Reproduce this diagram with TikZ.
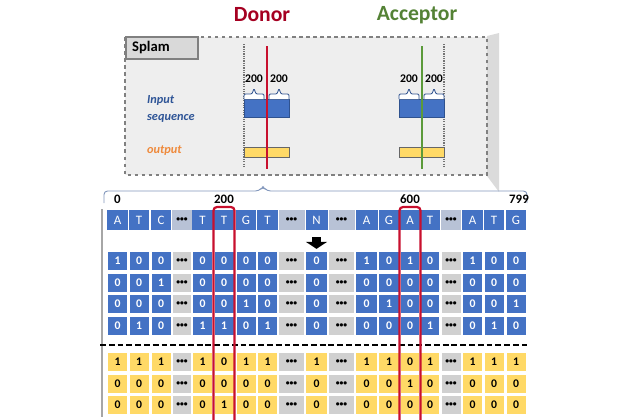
\documentclass[tikz,border=0pt]{standalone}
\usepackage{fontspec}
\setmainfont{Carlito}
\usetikzlibrary{arrows.meta, positioning}

% colours
\definecolor{cellblue}{HTML}{4472C4}
\definecolor{celledge}{HTML}{2F528F}
\definecolor{cellyellow}{HTML}{FFD966}
\definecolor{cellgrey}{HTML}{D0D0D0}
\definecolor{seqgrey}{HTML}{B8C2D6}
\definecolor{donorred}{HTML}{A50021}
\definecolor{linered}{HTML}{C8102E}
\definecolor{accgreen}{HTML}{548235}
\definecolor{linegreen}{HTML}{5B9A3A}
\definecolor{inblue}{HTML}{2F5597}
\definecolor{outorange}{HTML}{EE8A3C}
\definecolor{panelgrey}{HTML}{EEEEEE}

\newcommand\pxu{0.03cm}
\newcommand\dotstext{\textbullet\textbullet\textbullet}

% column centres and widths
\def\colx{{117.5,139,161,182,202.5,224,246,267.5,291.5,316.5,341.5,366.5,389,410,430,451,472.5,494,516}}
\def\colw{{21.5,21.5,21.5,21,21.5,21.5,21.5,21.5,27,23,27,23,22,20.5,20.5,21.5,21.5,21.5,21.5}}

\tikzset{
  seqcell/.style={fill=cellblue, text=white, inner sep=0pt, minimum height=20*\pxu, font=\fontsize{11}{12}\selectfont},
  seqdots/.style={seqcell, fill=seqgrey, text=black, font=\fontsize{6.5}{7}\bfseries\selectfont},
  incell/.style={fill=cellblue, text=white, inner sep=0pt, minimum height=18*\pxu, font=\fontsize{10}{11}\bfseries\selectfont},
  outcell/.style={incell, fill=cellyellow, text=black},
  dotcell/.style={incell, fill=cellgrey, text=black, font=\fontsize{6.5}{7}\bfseries\selectfont},
  poslabel/.style={font=\fontsize{11}{12}\bfseries\selectfont},
  smalllabel/.style={font=\fontsize{10}{11}\bfseries\selectfont},
  title/.style={font=\fontsize{18.5}{20}\bfseries\selectfont},
  inblock/.style={fill=cellblue, draw=celledge, line width=0.8pt},
  outblock/.style={fill=cellyellow, draw=black!60, line width=0.8pt},
  smallbrace/.style={draw=celledge, fill=white, line width=0.7pt, rounded corners=1pt},
  dotline/.style={densely dotted, draw=black!55, line width=1pt},
  redbox/.style={draw=linered, line width=1.9pt, rounded corners=3pt},
  blockarrow/.style={line width=7pt, -{Triangle[length=6pt, width=18pt]}, shorten <=6pt, shorten >=2.5pt},
}

\begin{document}
\begin{tikzpicture}[x=0.03cm, y=-0.03cm]
\useasboundingbox (0,0) rectangle (630,420);

% titles
\node[title, text=donorred] (donor) at (262,15) {Donor};
\node[title, text=accgreen] (acceptor) at (417,15) {Acceptor};

% Splam panel with its shadow
\fill[black!14] (487,36) -- (499,33) -- (499,192) -- (487,176) -- cycle;
\draw[fill=panelgrey, draw=black!50, dashed, line width=0.9pt] (125,37) rectangle (487,175);
\draw[fill=black!15, draw=black!50, line width=1.2pt] (126,37) rectangle (198,59);
\node[anchor=west, font=\fontsize{12.5}{13}\bfseries\selectfont] (splam) at (128,48) {Splam};

\node[anchor=west, align=left, text=inblue, font=\fontsize{10.5}{14}\bfseries\itshape\selectfont] (inlabel) at (143,109) {Input\\sequence};
\node[anchor=west, text=outorange, font=\fontsize{10.5}{12}\bfseries\itshape\selectfont] (outlabel) at (143,151) {output};

% dotted bounds
\draw[dotline] (244,44) -- (244,168);
\draw[dotline] (444,44) -- (444,168);

% input and output windows
\draw[inblock] (244,99) rectangle (289,117);
\draw[inblock] (399,99) rectangle (444,117);
\draw[outblock] (244,147) rectangle (289,157);
\draw[outblock] (399,147) rectangle (444,157);

% 200 | 200 braces
\foreach \a [count=\i] in {244,269,399,424} {
  \draw[smallbrace] (\a,99) -- (\a,94) -- (\a+8,94) -- (\a+10,88.5) -- (\a+12,94) -- (\a+20,94) -- (\a+20,99);
  \node[smalllabel] (w\i) at (\a+10,79) {200};
}

% splice sites
\draw[linered, line width=1.8pt] (266.7,46) -- (266.7,169);
\draw[linegreen, line width=1.8pt] (422,46) -- (422,169);

% brace over the sequence
\draw[celledge!60, line width=0.8pt, rounded corners=3pt] (104,203) -- (104,191) -- (259,191) -- (263,186.5) -- (267,191) -- (527,191) -- (527,203);

% positions
\node[poslabel] (p0) at (117.5,199) {0};
\node[poslabel] (p200) at (224,199) {200};
\node[poslabel] (p600) at (410,199) {600};
\node[poslabel] (p799) at (519,199) {799};

% left rule
\draw[black!35, line width=1.6pt] (102,209) -- (102,417);

% sequence
\foreach \base [count=\c] in {A,T,C,d,T,T,G,T,d,N,d,A,G,A,T,d,A,T,G} {
  \pgfmathsetmacro\x{\colx[\c-1]}
  \pgfmathsetmacro\w{\colw[\c-1]-1}
  \if d\base \def\sty{seqdots}\def\txt{\dotstext}\else \def\sty{seqcell}\def\txt{\base}\fi
  \node[\sty, minimum width=\w*\pxu] (s\c) at (\x,220) {\txt};
}

% one-hot input
\foreach \row [count=\r] in {
  {1,0,0,d,0,0,0,0,d,0,d,1,0,1,0,d,1,0,0},
  {0,0,1,d,0,0,0,0,d,0,d,0,0,0,0,d,0,0,0},
  {0,0,0,d,0,0,1,0,d,0,d,0,1,0,0,d,0,0,1},
  {0,1,0,d,1,1,0,1,d,0,d,0,0,0,1,d,0,1,0}} {
  \foreach \v [count=\c] in \row {
    \pgfmathsetmacro\x{\colx[\c-1]}
    \pgfmathsetmacro\w{\colw[\c-1]-2.5}
    \pgfmathsetmacro\y{261+21.5*(\r-1)}
    \if d\v \def\sty{dotcell}\def\txt{\dotstext}\else \def\sty{incell}\def\txt{\v}\fi
    \node[\sty, minimum width=\w*\pxu] (in-\r-\c) at (\x,\y) {\txt};
  }
}

% output labels
\foreach \row [count=\r] in {
  {1,1,1,d,1,0,1,1,d,1,d,1,1,0,1,d,1,1,1},
  {0,0,0,d,0,0,0,0,d,0,d,0,0,1,0,d,0,0,0},
  {0,0,0,d,0,1,0,0,d,0,d,0,0,0,0,d,0,0,0}} {
  \foreach \v [count=\c] in \row {
    \pgfmathsetmacro\x{\colx[\c-1]}
    \pgfmathsetmacro\w{\colw[\c-1]-2.5}
    \pgfmathsetmacro\y{362+21.5*(\r-1)}
    \if d\v \def\sty{dotcell}\def\txt{\dotstext}\else \def\sty{outcell}\def\txt{\v}\fi
    \node[\sty, minimum width=\w*\pxu] (out-\r-\c) at (\x,\y) {\txt};
  }
}

% separator
\draw[black, line width=1.8pt, dash pattern=on 5pt off 2.5pt] (100,345) -- (527,345);

% arrow under N
\draw[blockarrow] (s10) -- (in-1-10);

% donor / acceptor columns
\draw[redbox] (213.5,421) -- (213.5,207) -- (234.5,207) -- (234.5,421);
\draw[redbox] (399.5,421) -- (399.5,207) -- (420.5,207) -- (420.5,421);

\end{tikzpicture}
\end{document}
